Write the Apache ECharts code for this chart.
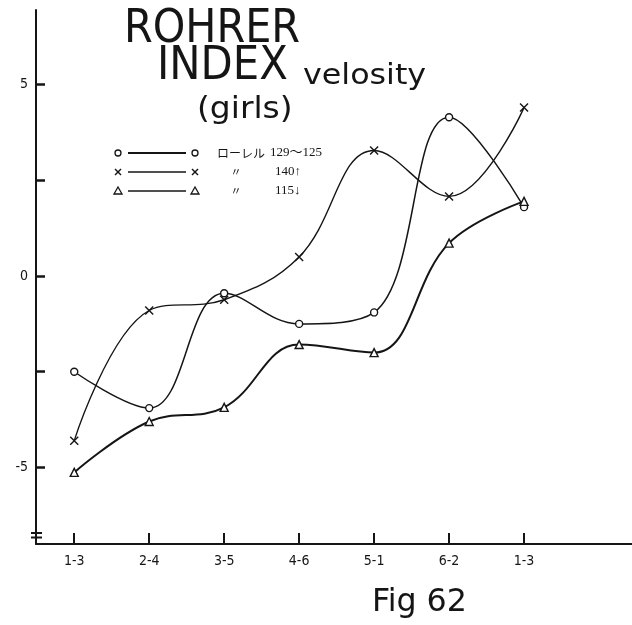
<!DOCTYPE html>
<html><head><meta charset="utf-8">
<script src="https://cdn.jsdelivr.net/npm/echarts@6/dist/echarts.min.js"></script>
<style>html,body{margin:0;padding:0;background:#fff}#c{width:632px;height:625px}</style>
</head><body><div id="c"></div>
<script>
// ---- data ----
const categories = ['1-3', '2-4', '3-5', '4-6', '5-1', '6-2', '1-3'];
const yTickValues = [-5, -2.5, 0, 2.5, 5];
const yLabelValues = [-5, 0, 5];
const laurelMid  = [-2.5, -3.45, -0.45, -1.25, -0.95, 4.15, 1.8];   // o  ローレル129〜125
const laurelHigh = [-4.3, -0.9, -0.62, 0.5, 3.28, 2.08, 4.4];        // x  140↑
const laurelLow  = [-5.13, -3.8, -3.43, -1.79, -2.0, 0.86, 1.95];    // △  115↓
const legendNames = ['ローレル', '〃', '〃'];
const legendValues = ['129〜125', '140↑', '115↓'];
const titleLines = ['ROHRER', 'INDEX', 'velosity', '(girls)'];
const figLabel = 'Fig 62';

// ---- chart ----
const INK = '#151515';
const xSym = 'path://M0,0L10,10M10,0L0,10';
const toPts = arr => arr.map((v, i) => [i, v]);
const catIdx = categories.map((c, i) => i);

const chart = echarts.init(document.getElementById('c'));

function mkSeries(name, data, symbol, size, lw) {
  return {
    name, type: 'line', data: toPts(data), smooth: 0.4,
    symbol, symbolSize: size,
    lineStyle: { color: INK, width: lw },
    itemStyle: { color: '#fff', borderColor: INK, borderWidth: 1.4 },
    z: 3
  };
}

const legendSymbols = ['circle', xSym, 'triangle'];
const legendGraphics = [];
const rowY = [153, 172, 191];
rowY.forEach((y, r) => {
  const sym = legendSymbols[r];
  [118, 195].forEach(cx => {
    if (sym === 'circle') legendGraphics.push({ type: 'circle', shape: { cx, cy: y, r: 3 }, style: { fill: '#fff', stroke: INK, lineWidth: 1.3 } });
    else if (sym === 'triangle') legendGraphics.push({ type: 'polygon', shape: { points: [[cx, y - 4], [cx - 4, y + 3], [cx + 4, y + 3]] }, style: { fill: '#fff', stroke: INK, lineWidth: 1.3 } });
    else legendGraphics.push({ type: 'polyline', shape: { points: [[cx - 3, y - 3], [cx + 3, y + 3]] }, style: { stroke: INK, lineWidth: 1.4 } },
                             { type: 'polyline', shape: { points: [[cx + 3, y - 3], [cx - 3, y + 3]] }, style: { stroke: INK, lineWidth: 1.4 } });
  });
  legendGraphics.push({ type: 'line', shape: { x1: 128, y1: y, x2: 186, y2: y }, style: { stroke: INK, lineWidth: r === 0 ? 2 : 1.5 } });
  if (r === 0) {
    legendGraphics.push({ type: 'text', style: { text: legendNames[r], x: 217, y, font: '12px "Noto Sans CJK JP"', fill: INK, textVerticalAlign: 'middle' } });
  } else {
    legendGraphics.push({ type: 'text', style: { text: legendNames[r], x: 236, y, font: '11px "Noto Sans CJK JP"', fill: INK, textAlign: 'center', textVerticalAlign: 'middle' } });
  }
  legendGraphics.push({ type: 'text', style: { text: legendValues[r], x: r === 0 ? 270 : 275, y, font: '13px "Liberation Serif","Noto Sans CJK JP"', fill: INK, textVerticalAlign: 'middle' } });
});

const TF = '"Liberation Sans Narrow","DejaVu Sans Condensed","Liberation Sans"';
function tText(text, x, y, size, sx) {
  return { type: 'text', x, y, scaleX: sx, style: { text, x: 0, y: 0, font: size + 'px ' + TF, fill: INK, textVerticalAlign: 'middle' } };
}
const titleGraphics = [
  tText(titleLines[0], 124, 30, 46, 1.0),
  tText(titleLines[1], 157, 67, 46, 1.01),
  tText(titleLines[2], 303, 77, 28, 1.26),
  tText(titleLines[3], 197, 110, 30, 1.22),
  tText(figLabel, 372, 603, 32, 1.1),
  // axis break mark
  { type: 'line', shape: { x1: 31, y1: 533, x2: 42, y2: 533 }, style: { stroke: INK, lineWidth: 2 } },
  { type: 'line', shape: { x1: 31, y1: 537.5, x2: 42, y2: 537.5 }, style: { stroke: INK, lineWidth: 2 } }
];

chart.setOption({
  backgroundColor: '#fff',
  animation: false,
  grid: { left: 36, right: 0, top: 10, bottom: 81, containLabel: false },
  xAxis: {
    type: 'value', min: -0.51, max: 7.44,
    splitLine: { show: false },
    axisLine: { show: true, onZero: false, lineStyle: { color: INK, width: 2 } },
    axisTick: { show: true, inside: true, length: 11, lineStyle: { color: INK, width: 2 }, customValues: catIdx },
    axisLabel: { customValues: catIdx, formatter: v => categories[Math.round(v)], color: INK, fontSize: 14, margin: 10, fontFamily: TF }
  },
  yAxis: {
    type: 'value', min: -7, max: 6.95,
    splitLine: { show: false },
    axisLine: { show: true, onZero: false, lineStyle: { color: INK, width: 2 } },
    axisTick: { show: true, inside: true, length: 9, lineStyle: { color: INK, width: 2.5 }, customValues: yTickValues },
    axisLabel: { customValues: yLabelValues, color: INK, fontSize: 14, margin: 8, fontFamily: TF }
  },
  series: [
    mkSeries('ローレル129〜125', laurelMid, 'circle', 7, 1.5),
    mkSeries('140↑', laurelHigh, xSym, 8, 1.4),
    mkSeries('115↓', laurelLow, 'triangle', 8, 2)
  ],
  graphic: titleGraphics.concat(legendGraphics)
});
</script>
</body></html>
